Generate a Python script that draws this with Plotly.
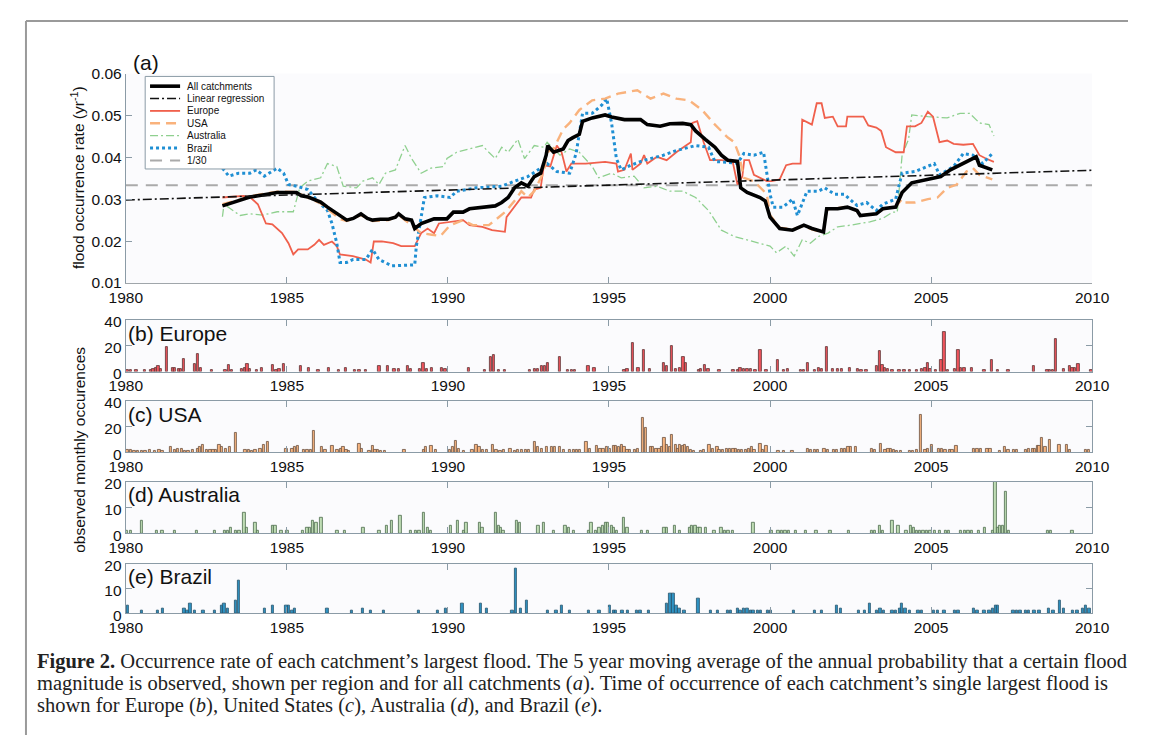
import plotly.graph_objects as go

# Screen is 1154x753; the page body keeps an 8px margin, so the figure is 1138x737 placed at (8, 8).
SCREEN_W, SCREEN_H = 1154, 753
OFF = 8
W, H = SCREEN_W - 2 * OFF, SCREEN_H - 2 * OFF

# ---------------- data: panel (a) 5-year moving averages ----------------
all_pts = [(1983.0, 0.0284), (1983.5, 0.0296), (1983.85, 0.0305), (1984.25, 0.0310), (1984.7, 0.0316),
           (1985.3, 0.0316), (1985.45, 0.0308), (1985.66, 0.0305), (1986.05, 0.0293), (1986.26, 0.0281),
           (1986.47, 0.0270), (1986.66, 0.0258), (1986.86, 0.0250), (1987.06, 0.0254), (1987.3, 0.0265),
           (1987.5, 0.0254), (1987.66, 0.0250), (1987.9, 0.0252), (1988.16, 0.0252), (1988.37, 0.0257),
           (1988.47, 0.0265), (1988.67, 0.0253), (1988.87, 0.0250), (1988.97, 0.0230), (1989.17, 0.0242),
           (1989.57, 0.0253), (1989.97, 0.0253), (1990.17, 0.0269), (1990.47, 0.0269), (1990.67, 0.0277),
           (1991.07, 0.0281), (1991.47, 0.0284), (1991.67, 0.0292), (1991.87, 0.0304), (1992.07, 0.0327),
           (1992.28, 0.0339), (1992.48, 0.0331), (1992.68, 0.0354), (1992.88, 0.0362), (1993.05, 0.0405),
           (1993.1, 0.0428), (1993.28, 0.0412), (1993.58, 0.0420), (1993.73, 0.0440), (1993.88, 0.0447),
           (1994.08, 0.0455), (1994.18, 0.0486), (1994.48, 0.0494), (1994.88, 0.0501), (1995.08, 0.0496),
           (1995.48, 0.0490), (1995.98, 0.0490), (1996.19, 0.0478), (1996.59, 0.0474), (1996.89, 0.0480),
           (1997.29, 0.0481), (1997.54, 0.0478), (1997.69, 0.0463), (1997.99, 0.0443), (1998.29, 0.0424),
           (1998.49, 0.0405), (1998.69, 0.0393), (1998.99, 0.0390), (1999.09, 0.0327), (1999.29, 0.0316),
           (1999.69, 0.0304), (1999.85, 0.0296), (2000.0, 0.0257), (2000.3, 0.0230), (2000.7, 0.0226),
           (2001.05, 0.0238), (2001.3, 0.0230), (2001.66, 0.0222), (2001.76, 0.0277), (2002.1, 0.0277),
           (2002.4, 0.0281), (2002.7, 0.0273), (2002.8, 0.0261), (2003.3, 0.0265), (2003.5, 0.0277),
           (2003.9, 0.0281), (2004.1, 0.0316), (2004.4, 0.0339), (2004.9, 0.0347), (2005.3, 0.0354),
           (2005.6, 0.0370), (2005.9, 0.0381), (2006.4, 0.0401), (2006.5, 0.0381), (2006.9, 0.0370)]

europe_pts = [(1983.0, 0.0304), (1983.65, 0.0308), (1983.85, 0.0305), (1984.1, 0.0288), (1984.35, 0.0242),
              (1984.55, 0.0240), (1984.85, 0.0219), (1985.05, 0.0195), (1985.2, 0.0168), (1985.35, 0.0180),
              (1985.65, 0.0180), (1985.85, 0.0191), (1986.0, 0.0203), (1986.15, 0.0191), (1986.4, 0.0199),
              (1986.55, 0.0188), (1986.65, 0.0168), (1987.05, 0.0164), (1987.45, 0.0156), (1987.6, 0.0149),
              (1987.7, 0.0199), (1987.95, 0.0199), (1988.3, 0.0195), (1988.55, 0.0188), (1988.97, 0.0188),
              (1989.02, 0.0195), (1989.17, 0.0219), (1989.37, 0.0230), (1989.57, 0.0219), (1989.72, 0.0242),
              (1990.07, 0.0246), (1990.47, 0.0250), (1990.67, 0.0238), (1991.07, 0.0234), (1991.37, 0.0226),
              (1991.77, 0.0222), (1991.82, 0.0257), (1992.07, 0.0281), (1992.28, 0.0304), (1992.58, 0.0304),
              (1992.68, 0.0323), (1992.88, 0.0327), (1992.98, 0.0381), (1993.18, 0.0378), (1993.38, 0.0428),
              (1993.53, 0.0412), (1993.68, 0.0366), (1993.83, 0.0385), (1994.28, 0.0385), (1994.88, 0.0389),
              (1995.23, 0.0385), (1995.28, 0.0366), (1995.48, 0.0370), (1995.68, 0.0409), (1995.73, 0.0370),
              (1995.98, 0.0385), (1996.09, 0.0405), (1996.19, 0.0385), (1996.49, 0.0401), (1996.79, 0.0393),
              (1997.09, 0.0412), (1997.39, 0.0428), (1997.54, 0.0436), (1997.59, 0.0482), (1997.74, 0.0486),
              (1997.94, 0.0436), (1998.14, 0.0393), (1998.49, 0.0393), (1998.84, 0.0390), (1998.99, 0.0335),
              (1999.14, 0.0354), (1999.2, 0.0393), (1999.35, 0.0393), (1999.5, 0.0358), (1999.9, 0.0343),
              (2000.05, 0.0343), (2000.3, 0.0347), (2000.5, 0.0381), (2000.7, 0.0385), (2000.95, 0.0385),
              (2001.0, 0.0490), (2001.3, 0.0478), (2001.45, 0.0529), (2001.6, 0.0529), (2001.7, 0.0494),
              (2001.95, 0.0497), (2002.1, 0.0474), (2002.36, 0.0474), (2002.4, 0.0497), (2002.9, 0.0497),
              (2003.05, 0.0476), (2003.3, 0.0471), (2003.45, 0.0463), (2003.6, 0.0424), (2003.9, 0.0412),
              (2004.15, 0.0412), (2004.25, 0.0474), (2004.5, 0.0474), (2004.7, 0.0482), (2004.9, 0.0509),
              (2005.06, 0.0497), (2005.26, 0.0436), (2005.5, 0.0440), (2005.7, 0.0432), (2006.0, 0.0430),
              (2006.3, 0.0432), (2006.5, 0.0405), (2006.7, 0.0397), (2006.95, 0.0389)]

usa_pts = [(1983.0, 0.0288), (1983.5, 0.0298), (1983.85, 0.0307), (1984.25, 0.0312), (1984.7, 0.0318),
           (1985.3, 0.0317), (1985.66, 0.0303), (1986.05, 0.0290), (1986.47, 0.0265), (1986.66, 0.0252),
           (1986.86, 0.0248), (1987.3, 0.0262), (1987.66, 0.0248), (1988.16, 0.0250), (1988.47, 0.0262),
           (1988.87, 0.0238), (1989.17, 0.0219), (1989.5, 0.0215), (1989.77, 0.0212), (1990.07, 0.0238),
           (1990.47, 0.0250), (1990.77, 0.0238), (1991.27, 0.0238), (1991.47, 0.0250), (1991.77, 0.0269),
           (1992.07, 0.0296), (1992.28, 0.0319), (1992.48, 0.0304), (1992.68, 0.0319), (1992.98, 0.0366),
           (1993.08, 0.0412), (1993.28, 0.0420), (1993.58, 0.0467), (1993.78, 0.0482), (1994.08, 0.0513),
           (1994.48, 0.0536), (1994.88, 0.0540), (1995.28, 0.0552), (1995.88, 0.0560), (1996.29, 0.0540),
           (1996.69, 0.0552), (1997.09, 0.0540), (1997.49, 0.0536), (1997.89, 0.0513), (1998.29, 0.0478),
           (1998.69, 0.0447), (1998.89, 0.0436), (1999.04, 0.0405), (1999.19, 0.0351), (1999.5, 0.0343),
           (1999.9, 0.0312), (2000.0, 0.0262), (2000.3, 0.0232), (2000.7, 0.0228), (2001.05, 0.0236),
           (2001.3, 0.0228), (2001.66, 0.0220), (2001.76, 0.0275), (2002.1, 0.0278), (2002.4, 0.0282),
           (2002.7, 0.0272), (2002.8, 0.0262), (2003.3, 0.0264), (2003.5, 0.0276), (2003.9, 0.0282),
           (2004.1, 0.0300), (2004.2, 0.0292), (2004.5, 0.0292), (2004.9, 0.0300), (2005.2, 0.0304),
           (2005.5, 0.0327), (2005.8, 0.0335), (2006.1, 0.0366), (2006.3, 0.0374), (2006.5, 0.0358),
           (2006.9, 0.0347)]

australia_pts = [(1983.0, 0.0258), (1983.05, 0.0288), (1983.25, 0.0277), (1983.55, 0.0261), (1983.85, 0.0265),
                 (1984.25, 0.0262), (1984.7, 0.0270), (1985.2, 0.0270), (1985.4, 0.0327), (1985.65, 0.0343),
                 (1986.05, 0.0351), (1986.26, 0.0385), (1986.55, 0.0378), (1986.75, 0.0331), (1987.16, 0.0327),
                 (1987.36, 0.0343), (1987.66, 0.0351), (1987.86, 0.0335), (1988.06, 0.0362), (1988.37, 0.0370),
                 (1988.67, 0.0428), (1988.87, 0.0397), (1989.17, 0.0362), (1989.47, 0.0374), (1989.87, 0.0378),
                 (1989.97, 0.0397), (1990.27, 0.0412), (1990.67, 0.0420), (1991.07, 0.0428), (1991.27, 0.0412),
                 (1991.47, 0.0397), (1991.67, 0.0424), (1991.87, 0.0412), (1992.17, 0.0443), (1992.38, 0.0397),
                 (1992.68, 0.0428), (1992.98, 0.0424), (1993.08, 0.0436), (1993.48, 0.0405), (1993.78, 0.0420),
                 (1994.08, 0.0412), (1994.48, 0.0378), (1994.68, 0.0351), (1995.08, 0.0362), (1995.38, 0.0351),
                 (1995.78, 0.0355), (1996.09, 0.0327), (1996.49, 0.0331), (1996.89, 0.0319), (1997.29, 0.0319),
                 (1997.69, 0.0304), (1998.09, 0.0273), (1998.49, 0.0226), (1998.89, 0.0211), (1999.29, 0.0203),
                 (1999.69, 0.0195), (2000.0, 0.0188), (2000.2, 0.0172), (2000.5, 0.0188), (2000.75, 0.0164),
                 (2001.0, 0.0203), (2001.25, 0.0195), (2001.5, 0.0211), (2001.8, 0.0219), (2002.1, 0.0234),
                 (2002.5, 0.0238), (2003.1, 0.0246), (2003.5, 0.0254), (2003.8, 0.0269), (2003.95, 0.0269),
                 (2004.1, 0.0405), (2004.3, 0.0443), (2004.4, 0.0501), (2004.9, 0.0497), (2005.5, 0.0494),
                 (2005.9, 0.0505), (2006.2, 0.0505), (2006.5, 0.0482), (2006.8, 0.0478), (2006.95, 0.0451)]

brazil_pts = [(1983.0, 0.0374), (1983.2, 0.0355), (1983.5, 0.0362), (1983.85, 0.0362), (1984.05, 0.0370),
              (1984.3, 0.0355), (1984.7, 0.0374), (1984.9, 0.0362), (1985.05, 0.0335), (1985.35, 0.0330),
              (1985.65, 0.0323), (1985.95, 0.0296), (1986.26, 0.0273), (1986.4, 0.0242), (1986.55, 0.0195),
              (1986.65, 0.0149), (1986.86, 0.0149), (1987.06, 0.0156), (1987.45, 0.0156), (1987.66, 0.0180),
              (1987.86, 0.0156), (1988.26, 0.0141), (1988.97, 0.0143), (1989.02, 0.0188), (1989.27, 0.0304),
              (1989.67, 0.0308), (1990.07, 0.0304), (1990.27, 0.0319), (1990.87, 0.0327), (1991.67, 0.0331),
              (1992.07, 0.0343), (1992.48, 0.0354), (1992.88, 0.0374), (1993.08, 0.0385), (1993.38, 0.0366),
              (1993.78, 0.0362), (1993.98, 0.0409), (1994.18, 0.0505), (1994.48, 0.0505), (1994.78, 0.0525),
              (1994.93, 0.0540), (1995.08, 0.0482), (1995.23, 0.0397), (1995.38, 0.0370), (1995.68, 0.0381),
              (1996.09, 0.0393), (1996.69, 0.0405), (1997.09, 0.0416), (1997.69, 0.0428), (1998.09, 0.0424),
              (1998.29, 0.0390), (1998.99, 0.0386), (1999.19, 0.0409), (1999.5, 0.0405), (1999.8, 0.0412),
              (1999.9, 0.0366), (2000.0, 0.0312), (2000.1, 0.0281), (2000.4, 0.0281), (2000.7, 0.0300),
              (2000.85, 0.0261), (2001.15, 0.0319), (2001.5, 0.0319), (2001.7, 0.0327), (2002.0, 0.0312),
              (2002.3, 0.0312), (2002.7, 0.0285), (2003.0, 0.0292), (2003.3, 0.0273), (2003.5, 0.0288),
              (2003.9, 0.0300), (2004.1, 0.0362), (2004.5, 0.0366), (2005.1, 0.0385), (2005.26, 0.0358),
              (2005.7, 0.0378), (2006.0, 0.0409), (2006.3, 0.0405), (2006.6, 0.0385), (2006.9, 0.0409)]

regression_years = [1980, 2010]
regression_values = [0.0298, 0.0369]
reference_rate = 1 / 30

# ---------------- data: panels (b)-(e) monthly counts ----------------
europe_bars = [(1980.05,1),(1980.15,1),(1980.33,1),(1980.59,1),(1980.78,1),(1980.85,2),(1980.94,3),(1981.01,4),
    (1981.09,2),(1981.28,19),(1981.46,3),(1981.53,3),(1981.65,2),(1981.71,2),(1981.81,10),(1982.15,6),
    (1982.23,14),(1982.32,3),(1982.67,1),(1983.09,1),(1983.19,5),(1983.29,1),(1983.6,2),(1983.69,3),
    (1983.77,6),(1983.86,2),(1984.07,1),(1984.23,3),(1984.56,5),(1984.67,1),(1984.77,2),(1984.9,6),
    (1985.43,4),(1985.69,3),(1985.98,1),(1986.3,3),(1986.62,1),(1986.83,3),(1987.1,1),(1987.25,1),
    (1987.45,1),(1987.87,4),(1988.13,4),(1988.34,2),(1988.47,2),(1988.75,4),(1988.84,2),(1989.12,2),
    (1989.24,7),(1989.35,2),(1989.51,3),(1989.8,3),(1989.92,2),(1990.65,3),(1991.14,1),(1991.33,11),
    (1991.42,13),(1991.58,1),(1991.76,1),(1992.55,1),(1992.7,2),(1992.8,2),(1992.91,4),(1993.01,4),
    (1993.1,7),(1993.48,11),(1993.73,1),(1993.84,1),(1993.94,1),(1994.36,4),(1994.54,3),(1995.48,1),
    (1995.57,2),(1995.73,22),(1995.91,3),(1996.08,17),(1996.27,2),(1996.7,7),(1996.79,4),(1996.94,20),
    (1997.07,2),(1997.2,3),(1997.31,11),(1997.39,7),(1997.79,1),(1997.86,2),(1997.98,5),(1998.08,2),
    (1998.43,1),(1998.86,1),(1999.0,1),(1999.08,3),(1999.18,2),(1999.29,2),(1999.4,2),(1999.54,1),
    (1999.7,17),(1999.88,1),(2000.24,9),(2000.42,1),(2000.56,2),(2000.96,1),(2001.04,1),(2001.17,7),
    (2001.38,1),(2001.52,3),(2001.6,2),(2001.76,19),(2001.95,2),(2002.11,2),(2002.22,2),(2002.48,3),
    (2002.73,2),(2002.83,1),(2002.99,1),(2003.32,4),(2003.4,16),(2003.49,5),(2003.57,3),(2003.66,2),
    (2003.8,1),(2004.01,1),(2004.17,1),(2004.33,1),(2004.55,1),(2004.71,2),(2004.82,3),(2004.9,7),
    (2004.98,2),(2005.14,1),(2005.32,9),(2005.41,31),(2005.52,1),(2005.74,2),(2005.84,17),(2005.93,3),
    (2006.03,3),(2006.27,3),(2006.65,1),(2006.88,9),(2007.07,1),(2007.4,1),(2008.18,4),(2008.61,1),
    (2008.68,1),(2008.77,1),(2008.87,25),(2009.11,2),(2009.3,4),(2009.38,3),(2009.46,3),(2009.57,6),
    (2009.97,1)]

usa_bars = [(1980.05,2),(1980.15,2),(1980.26,1),(1980.38,1),(1980.49,1),(1980.61,1),(1980.75,2),(1980.9,1),
    (1981.04,2),(1981.13,1),(1981.4,4),(1981.53,2),(1981.61,3),(1981.73,3),(1981.84,1),(1981.94,1),
    (1982.07,2),(1982.23,3),(1982.3,4),(1982.4,6),(1982.51,2),(1982.62,2),(1982.72,2),(1982.8,2),
    (1982.9,6),(1982.98,4),(1983.11,3),(1983.22,4),(1983.42,15),(1983.71,2),(1983.81,2),(1983.92,1),
    (1984.02,2),(1984.18,3),(1984.28,6),(1984.4,8),(1984.98,3),(1985.17,3),(1985.25,4),(1985.35,5),
    (1985.53,2),(1985.63,2),(1985.74,2),(1985.83,17),(1986.08,4),(1986.19,2),(1986.41,5),(1986.57,2),
    (1986.67,3),(1986.75,4),(1986.85,2),(1986.93,1),(1987.25,7),(1987.33,3),(1987.56,1),(1987.66,5),
    (1987.75,2),(1987.82,2),(1987.92,1),(1988.03,1),(1988.65,2),(1989.25,2),(1989.32,4),(1989.48,5),
    (1989.63,2),(1990.05,2),(1990.15,4),(1990.24,9),(1990.34,3),(1990.5,1),(1990.76,2),(1990.88,6),
    (1990.97,4),(1991.09,2),(1991.2,2),(1991.4,6),(1991.5,2),(1991.63,1),(1991.73,2),(1991.94,3),
    (1992.08,1),(1992.18,2),(1992.29,2),(1992.41,2),(1992.51,2),(1992.7,8),(1992.8,4),(1992.91,3),
    (1993.07,4),(1993.22,4),(1993.32,4),(1993.48,4),(1993.6,2),(1993.79,2),(1993.9,2),(1994.0,2),
    (1994.1,2),(1994.3,8),(1994.4,3),(1994.62,5),(1994.73,3),(1994.82,3),(1994.93,4),(1995.03,3),
    (1995.14,5),(1995.21,5),(1995.3,4),(1995.4,6),(1995.48,4),(1995.57,2),(1995.65,2),(1995.8,2),
    (1995.89,3),(1996.05,27),(1996.15,19),(1996.29,4),(1996.37,4),(1996.47,3),(1996.56,3),(1996.64,4),
    (1996.72,11),(1996.8,6),(1996.88,4),(1996.96,14),(1997.07,6),(1997.14,3),(1997.2,6),(1997.29,5),
    (1997.36,6),(1997.44,4),(1997.54,2),(1997.63,1),(1997.86,1),(1997.95,2),(1998.11,6),(1998.22,3),
    (1998.36,4),(1998.43,2),(1998.54,2),(1998.65,3),(1998.76,3),(1998.86,3),(1998.94,3),(1999.02,2),
    (1999.13,2),(1999.24,2),(1999.35,3),(1999.43,4),(1999.51,2),(1999.7,7),(1999.78,2),(1999.88,5),
    (2000.26,1),(2000.42,1),(2000.69,1),(2001.17,3),(2001.26,2),(2001.39,2),(2001.49,2),(2001.68,3),
    (2001.79,2),(2001.97,2),(2002.08,2),(2002.22,3),(2002.33,3),(2002.43,4),(2002.51,4),(2002.67,4),
    (2003.15,3),(2003.26,2),(2003.44,7),(2003.58,2),(2003.67,3),(2003.74,3),(2003.85,2),(2003.94,1),
    (2004.07,1),(2004.33,1),(2004.44,1),(2004.55,2),(2004.68,29),(2004.82,2),(2004.9,3),(2005.03,6),
    (2005.25,3),(2005.33,3),(2005.44,2),(2005.58,2),(2005.66,2),(2005.78,5),(2006.32,3),(2006.43,3),
    (2006.54,3),(2006.75,3),(2006.84,3),(2007.13,1),(2007.29,4),(2007.4,2),(2007.56,2),(2007.67,2),
    (2007.93,2),(2008.04,3),(2008.15,3),(2008.23,3),(2008.31,5),(2008.36,5),(2008.44,11),(2008.55,4),
    (2008.68,10),(2008.98,6),(2009.21,6),(2009.3,2),(2009.8,2),(2009.89,2)]

australia_bars = [(1980.02,1),(1980.16,1),(1980.49,5),(1980.96,1),(1981.13,1),(1981.53,1),(1982.2,1),
    (1982.77,1),(1983.08,1),(1983.16,1),(1983.27,2),(1983.42,1),(1983.52,1),(1983.68,8),(1983.76,2),
    (1984.02,4),(1984.1,1),(1984.56,3),(1984.64,3),(1984.83,1),(1985.01,1),(1985.5,1),(1985.63,2),
    (1985.72,2),(1985.81,5),(1985.91,4),(1986.07,6),(1986.57,1),(1986.79,1),(1987.37,2),(1987.87,1),
    (1988.1,3),(1988.26,5),(1988.52,7),(1988.85,1),(1989.0,1),(1989.11,1),(1989.25,8),(1989.38,2),
    (1989.46,1),(1990.08,3),(1990.31,5),(1990.5,1),(1990.57,4),(1990.99,4),(1991.07,2),(1991.49,8),
    (1991.57,3),(1991.65,2),(1991.72,1),(1992.13,5),(1992.24,4),(1992.81,3),(1992.97,4),(1993.28,1),
    (1993.64,3),(1993.76,2),(1993.9,1),(1994.37,1),(1994.45,4),(1994.6,1),(1994.7,2),(1994.81,3),
    (1994.9,4),(1994.97,4),(1995.08,3),(1995.16,2),(1995.25,1),(1995.46,6),(1995.57,2),(1996.02,1),
    (1996.21,1),(1996.72,2),(1996.8,2),(1997.04,3),(1997.2,1),(1997.5,2),(1997.58,3),(1997.68,3),
    (1997.77,2),(1997.84,2),(1998.0,2),(1998.27,1),(1998.49,2),(1998.59,1),(1998.7,1),(1998.84,1),
    (1999.48,4),(2000.04,1),(2000.26,1),(2000.37,1),(2000.47,1),(2000.58,1),(2000.79,1),(2001.12,1),
    (2001.44,1),(2001.87,1),(2002.44,1),(2003.15,1),(2003.26,1),(2003.4,3),(2003.51,1),(2003.8,5),
    (2003.98,3),(2004.23,1),(2004.37,3),(2004.46,2),(2004.55,1),(2004.66,1),(2004.76,1),(2004.87,1),
    (2004.98,1),(2005.12,1),(2005.27,1),(2005.46,1),(2005.55,1),(2005.93,1),(2006.05,1),(2006.16,1),
    (2006.27,1),(2006.49,1),(2006.67,2),(2006.91,1),(2006.99,20),(2007.07,2),(2007.14,3),(2007.23,3),
    (2007.32,16),(2007.41,1),(2008.63,1),(2008.72,1),(2009.38,1)]

brazil_bars = [(1980.07,3),(1980.49,1),(1980.99,1),(1981.15,2),(1981.82,2),(1981.91,1),(1982.0,4),
    (1982.15,1),(1982.41,1),(1982.76,1),(1982.98,3),(1983.06,4),(1983.17,2),(1983.42,5),(1983.5,13),
    (1984.31,2),(1984.57,3),(1984.98,3),(1985.06,3),(1985.17,1),(1985.25,2),(1986.26,2),(1987.02,1),
    (1987.35,2),(1987.61,1),(1988.02,1),(1989.1,1),(1989.69,1),(1989.93,2),(1990.45,4),(1991.02,4),
    (1991.2,2),(1992.0,1),(1992.11,18),(1992.27,2),(1992.44,5),(1993.1,1),(1993.36,1),(1993.53,3),
    (1993.79,1),(1994.37,1),(1994.7,1),(1995.03,3),(1995.14,1),(1995.21,1),(1995.41,1),(1995.59,1),
    (1995.86,1),(1995.97,1),(1996.24,1),(1996.8,4),(1996.9,8),(1997.0,8),(1997.09,3),(1997.18,2),
    (1997.34,1),(1997.77,6),(1998.17,1),(1998.38,1),(1998.68,1),(1998.79,1),(1999.0,2),(1999.08,1),
    (1999.18,2),(1999.29,2),(1999.4,1),(1999.48,1),(1999.61,1),(1999.72,1),(1999.93,1),(2000.02,1),
    (2000.74,1),(2001.38,1),(2001.6,1),(2002.08,3),(2002.19,2),(2002.76,1),(2002.94,1),(2003.1,4),
    (2003.32,1),(2003.42,2),(2003.53,1),(2003.8,1),(2003.91,1),(2004.02,2),(2004.1,4),(2004.2,2),
    (2004.34,1),(2004.6,1),(2004.71,1),(2005.09,1),(2005.2,1),(2005.41,1),(2005.73,1),(2005.84,1),
    (2006.32,2),(2006.43,1),(2006.65,1),(2006.81,1),(2006.92,2),(2007.0,3),(2007.07,3),(2007.55,1),
    (2007.66,1),(2007.77,1),(2007.93,1),(2008.04,1),(2008.2,1),(2008.36,1),(2008.66,2),(2008.79,1),
    (2009.0,5),(2009.11,2),(2009.41,1),(2009.54,1),(2009.7,2),(2009.81,3),(2009.91,2)]

year_ticks = [1980, 1985, 1990, 1995, 2000, 2005, 2010]
rate_ticks = [0.01, 0.02, 0.03, 0.04, 0.05, 0.06]

# ---------------- helpers: screen pixel -> paper fraction ----------------
def px(x):
    return (x - OFF) / W

def py(y):
    return 1 - (y - OFF) / H

FONT = "Arial, Liberation Sans, sans-serif"
AX_COL = "#8b9ba6"
BG = "#fbfbfd"

fig = go.Figure()

def add_line(pts, color, width, dash, name):
    fig.add_trace(go.Scatter(x=[p[0] for p in pts], y=[p[1] for p in pts], mode="lines",
                             line=dict(color=color, width=width, dash=dash), name=name,
                             xaxis="x", yaxis="y", showlegend=False, hoverinfo="skip"))

fig.add_trace(go.Scatter(x=regression_years, y=[reference_rate, reference_rate], mode="lines",
                         line=dict(color="#aaaaaa", width=2, dash="12px,8px"), showlegend=False,
                         xaxis="x", yaxis="y", hoverinfo="skip"))
add_line(australia_pts, "#8fd08f", 1.3, "8px,3px,2px,3px", "Australia")
add_line(europe_pts, "#f0604c", 1.8, "solid", "Europe")
add_line(brazil_pts, "#1f8fd3", 3, "dot", "Brazil")
add_line(usa_pts, "#f9b27c", 2.4, "10px,6px", "USA")
add_line(all_pts, "#000000", 3.6, "solid", "All catchments")
fig.add_trace(go.Scatter(x=regression_years, y=regression_values, mode="lines",
                         line=dict(color="#111111", width=1.6, dash="9px,3px,2px,3px"), showlegend=False,
                         xaxis="x", yaxis="y", hoverinfo="skip"))

bar_specs = [
    (europe_bars, "#f0545c", "#5a3636", 2),
    (usa_bars, "#f7b47f", "#6a5040", 3),
    (australia_bars, "#c0ddb5", "#4c6c4c", 4),
    (brazil_bars, "#2f93c4", "#23506a", 5),
]
for data, fill, edge, k in bar_specs:
    fig.add_trace(go.Bar(x=[d[0] for d in data], y=[d[1] for d in data], width=0.072,
                         marker=dict(color=fill, line=dict(color=edge, width=0.8)),
                         xaxis=f"x{k}", yaxis=f"y{k}", showlegend=False, hoverinfo="skip"))

xdom = [px(112), px(1109)]
tickfont = dict(family=FONT, size=15.5, color="#111111")

layout = dict(
    width=W, height=H, autosize=False,
    margin=dict(l=0, r=0, t=0, b=0),
    paper_bgcolor="white", plot_bgcolor=BG,
    showlegend=False, bargap=0,
    xaxis=dict(domain=xdom, range=[1980, 2010], tickvals=year_ticks, ticks="inside", ticklen=6,
               tickcolor=AX_COL, showline=True, linecolor="#a0a6aa", linewidth=1, showgrid=False,
               zeroline=False, tickfont=tickfont, anchor="y"),
    yaxis=dict(domain=[py(281), py(66)], range=[0.01, 0.06], tickvals=rate_ticks, tickformat=".2f",
               ticks="inside", ticklen=6, tickcolor=AX_COL, showline=True, linecolor=AX_COL, linewidth=1,
               showgrid=False, zeroline=False, tickfont=tickfont, anchor="x"),
)

panel_px = {2: (319, 372, 40), 3: (402, 455, 40), 4: (485, 538, 20), 5: (569, 620, 20)}
for k, (top, bot, ymax) in panel_px.items():
    layout[f"xaxis{k}"] = dict(domain=xdom, range=[1980, 2010], tickvals=year_ticks, ticks="inside",
                               ticklen=6, tickcolor=AX_COL, showline=True, linecolor=AX_COL, linewidth=1.2,
                               mirror="ticks", showgrid=False, zeroline=False, tickfont=tickfont,
                               anchor=f"y{k}")
    layout[f"yaxis{k}"] = dict(domain=[py(bot), py(top)], range=[0, ymax],
                               tickvals=[0, ymax / 2, ymax], ticks="inside", ticklen=6, tickcolor=AX_COL,
                               showline=True, linecolor=AX_COL, linewidth=1.2, mirror="ticks",
                               showgrid=False, zeroline=False, tickfont=tickfont, anchor=f"x{k}",
                               ticklabelshift=2)
fig.update_layout(**layout)

# ---------------- shapes: frame and legend ----------------
shapes = [
    dict(type="line", xref="paper", yref="paper", x0=px(9), x1=px(9), y0=py(12), y1=0,
         line=dict(color="#9a9a9a", width=2)),
    dict(type="line", xref="paper", yref="paper", x0=px(9), x1=1, y0=py(12), y1=py(12),
         line=dict(color="#9a9a9a", width=2)),
    dict(type="rect", xref="paper", yref="paper", x0=px(132), x1=px(265), y0=py(164), y1=py(69),
         fillcolor="white", line=dict(color="#8b9ba6", width=1), layer="above"),
]
legend_items = [
    ("All catchments", "#000000", 3.6, "solid"),
    ("Linear regression", "#111111", 1.6, "9px,3px,2px,3px"),
    ("Europe", "#f0604c", 1.8, "solid"),
    ("USA", "#f9b27c", 2.4, "10px,6px"),
    ("Australia", "#8fd08f", 1.3, "8px,3px,2px,3px"),
    ("Brazil", "#1f8fd3", 3, "dot"),
    ("1/30", "#aaaaaa", 2, "12px,8px"),
]
annotations = []
for i, (label, col, wdt, dsh) in enumerate(legend_items):
    yc = 79 + i * 12.7
    shapes.append(dict(type="line", xref="paper", yref="paper", x0=px(137), x1=px(168), y0=py(yc), y1=py(yc),
                       line=dict(color=col, width=wdt, dash=dsh), layer="above"))
    annotations.append(dict(text=label, xref="paper", yref="paper", x=px(173), y=py(yc), xanchor="left",
                            yanchor="middle", showarrow=False, font=dict(family=FONT, size=10, color="#111")))

# panel labels
for text, xx, yy in [("(a)", 117, 55), ("(b) Europe", 112, 333), ("(c) USA", 112, 416),
                     ("(d) Australia", 112, 498), ("(e) Brazil", 112, 582)]:
    annotations.append(dict(text=text, xref="paper", yref="paper", x=px(xx), y=py(yy), xanchor="left",
                            yanchor="middle", showarrow=False, font=dict(family=FONT, size=21, color="#111")))

# axis titles
annotations.append(dict(text="flood occurrence rate (yr<sup>-1</sup>)", xref="paper", yref="paper",
                        x=px(62), y=py(173), textangle=-90, showarrow=False, xanchor="center", yanchor="middle",
                        font=dict(family=FONT, size=15.5, color="#111")))
annotations.append(dict(text="observed monthly occurences", xref="paper", yref="paper",
                        x=px(64), y=py(452), textangle=-90, showarrow=False, xanchor="center", yanchor="middle",
                        font=dict(family=FONT, size=15.5, color="#111")))

# caption
SERIF = "Liberation Serif, Times New Roman, serif"
caption_lines = [
    "<b>Figure 2.</b> Occurrence rate of each catchment\u2019s largest flood. The 5 year moving average of the annual probability that a certain flood",
    "magnitude is observed, shown per region and for all catchments (<i>a</i>). Time of occurrence of each catchment\u2019s single largest flood is",
    "shown for Europe (<i>b</i>), United States (<i>c</i>), Australia (<i>d</i>), and Brazil (<i>e</i>).",
]
for i, line in enumerate(caption_lines):
    annotations.append(dict(text=line, xref="paper", yref="paper", x=px(18), y=py(670 + i * 22.5),
                            xanchor="left", yanchor="middle", showarrow=False,
                            font=dict(family=SERIF, size=20.5, color="#222")))

fig.update_layout(shapes=shapes, annotations=annotations)

fig.write_html("out.html", config={"displayModeBar": False})
